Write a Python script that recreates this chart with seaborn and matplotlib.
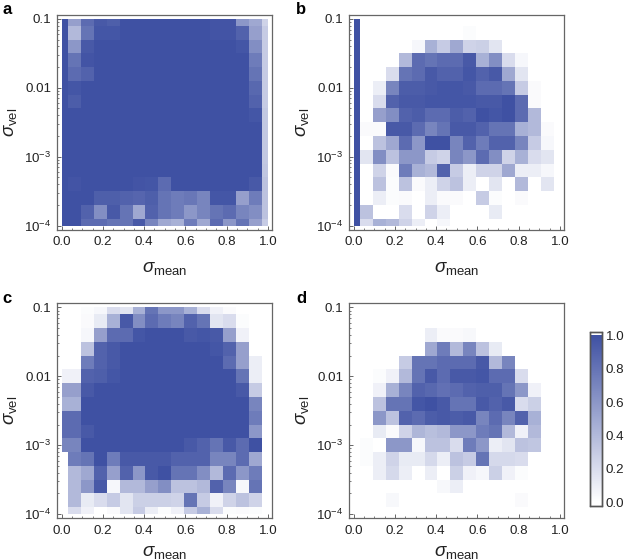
import numpy as np
import matplotlib
matplotlib.use("Agg")
import matplotlib.pyplot as plt
from matplotlib.colors import LinearSegmentedColormap
from matplotlib.patches import Rectangle
import seaborn as sns

# rows run from sigma_vel = 0.1 (top) down to 1e-4, columns sigma_mean 0 -> 1
panel_a = [
    [1,.55,.85,.95,.92,1,1,1,1,1,1,1,.98,.98,.6,.5,.25],
    [1,.4,.8,.97,.97,1,1,1,1,1,1,1,.98,.98,.9,.55,.3],
    [1,.6,.95,1,1,1,1,1,1,1,1,1,1,1,.97,.65,.3],
    [1,.8,.98,1,1,1,1,1,1,1,1,1,1,1,1,.75,.3],
    [1,.85,.9,1,1,1,1,1,1,1,1,1,1,1,1,.8,.3],
    [1,.97,1,1,1,1,1,1,1,1,1,1,1,1,1,.87,.3],
    [1,.93,1,1,1,1,1,1,1,1,1,1,1,1,1,.9,.3],
    [1,1,1,1,1,1,1,1,1,1,1,1,1,1,1,.97,.32],
    [1,1,1,1,1,1,1,1,1,1,1,1,1,1,1,1,.32],
    [1,1,1,1,1,1,1,1,1,1,1,1,1,1,1,1,.32],
    [1,1,1,1,1,1,1,1,1,1,1,1,1,1,1,1,.32],
    [1,1,1,1,1,1,1,1,1,1,1,1,1,1,1,1,.33],
    [1,.98,1,1,1,1,.98,.97,.85,1,1,1,1,1,1,.95,.35],
    [1,1,1,.92,.92,.9,.88,.92,.8,.75,.78,.7,.97,.97,.55,.75,.35],
    [1,1,.9,.65,.95,.8,.5,.9,.8,.75,.6,.7,.8,.85,.7,.65,.35],
    [1,1,.85,.85,.8,.8,.95,.7,.5,.45,.75,.5,.85,.6,.8,.55,.3],
]
panel_b = [
    [1,0,0,0,0,0,0,0,0,0,0,0,0,0,0,0,0],
    [1,0,0,0,0,0,0,0,0,.02,0,0,0,0,0,0,0],
    [1,0,0,0,0,.05,.45,.3,.5,.25,.27,.15,0,0,0,0,0],
    [1,0,0,0,.4,.85,.8,.85,.85,.95,.45,.65,.2,.05,0,0,0],
    [1,0,0,.2,.8,.85,.95,.9,.9,.97,.9,.95,.5,.15,0,0,0],
    [1,0,.1,.7,.93,.93,.95,.97,.97,.95,.85,.85,.8,.3,.03,0,0],
    [1,0,.2,.9,.95,.95,.97,.97,.97,.97,.95,.95,1,.85,.03,0,0],
    [1,0,.55,.65,.9,.93,.85,.85,.93,.9,1,.97,1,.85,.4,0,0],
    [1,.03,.03,.95,.95,.85,.7,.8,.95,.95,.9,.8,.8,.45,.4,.03,0],
    [1,0,.35,.5,.85,.6,1,1,.7,.9,.75,.9,.9,.7,.3,.05,0],
    [1,.15,.65,.35,.6,.6,.3,.25,.7,.6,.85,.65,.25,.45,.2,.15,0],
    [1,0,.25,.03,.75,.45,.4,.9,.3,.1,.25,.25,.5,.1,.1,.05,0],
    [1,0,.35,.02,.35,.03,.1,.25,.35,.1,0,.15,0,.4,0,.15,0],
    [1,0,.1,.02,.03,0,.1,.03,.03,0,.3,.02,0,.03,0,0,0],
    [1,.35,0,0,.2,0,.25,.1,0,0,0,.12,0,0,0,0,0],
    [1,.2,.45,.4,.25,.1,0,.05,0,0,0,0,0,0,0,0,0],
]
panel_c = [
    [0,0,.02,.05,.2,.15,.45,.8,.6,.6,.45,.2,.08,.03,0,0,0],
    [0,0,.03,.12,.45,.95,.65,.85,.75,.7,.9,.8,.15,.2,.02,0,0],
    [0,0,.05,.55,.85,.85,.97,1,1,1,.95,.97,.95,.55,.08,0,0],
    [0,0,.35,.9,.95,1,1,1,1,1,1,1,.97,.9,.55,0,0],
    [0,0,.75,.9,.95,1,1,1,1,1,1,1,1,.85,.55,.1,0],
    [.08,.08,.9,.92,.97,1,1,1,1,1,1,1,1,1,.8,.1,0],
    [.55,.55,.95,1,1,1,1,1,1,1,1,1,1,1,.95,.3,0],
    [.45,.45,1,1,1,1,1,1,1,1,1,1,1,1,1,.7,0],
    [.85,.85,1,1,1,1,1,1,1,1,1,1,1,1,1,.75,0],
    [.85,.85,.95,1,1,1,1,1,1,1,1,1,1,1,1,.6,0],
    [.7,.7,1,1,1,1,1,1,1,1,.95,.9,.8,.95,.85,1,0],
    [0,.75,.8,1,.75,.95,.95,.95,.95,.9,.9,.9,.7,.7,.85,.5,0],
    [0,.4,.5,.9,.55,.9,.6,.95,1,.8,.8,.65,.4,.85,.6,.75,0],
    [0,.4,.6,.95,.05,.4,.4,.55,.65,.35,.35,.4,.9,.7,.05,.8,0],
    [0,.4,.12,.2,.3,.15,.27,.27,.27,.25,.8,.3,.08,.25,.35,.25,0],
    [0,.2,.08,0,.03,.15,.3,.1,.02,.08,.3,.45,.2,.02,.03,.02,0],
]
panel_d = [
    [0,0,0,0,0,0,0,0,0,0,0,0,0,0,0,0,0],
    [0,0,0,0,0,0,0,0,0,0,0,0,0,0,0,0,0],
    [0,0,0,0,0,0,.1,.03,.03,.04,0,0,0,0,0,0,0],
    [0,0,0,0,0,0,.5,.75,.4,.7,.35,.12,0,0,0,0,0],
    [0,0,0,0,.3,.8,.8,.85,.85,.85,.95,.4,.7,0,0,0,0],
    [0,0,.02,.08,.4,.8,.95,.85,.95,.95,.97,.85,.85,.2,0,0,0],
    [0,0,.08,.45,.7,.9,.87,.82,.85,.9,.92,.92,.8,.6,.08,0,0],
    [0,0,.35,.8,.8,.97,1,.95,.8,.8,.95,.9,.95,.2,.27,0,0],
    [0,0,.6,.35,.9,.85,.93,.95,.93,.95,.7,.85,.7,.9,.45,0,0],
    [0,0,.12,.03,.25,.42,.37,.4,.6,.6,.75,.8,.4,.08,.4,0,0],
    [0,.02,0,.6,.6,.05,.35,.35,.2,.75,.6,.1,.15,.35,.33,0,0],
    [0,.02,.1,.25,.12,.12,.22,.1,.35,.3,.8,.22,.22,.2,0,0,0],
    [0,0,.1,.22,.1,0,.1,0,.27,.08,.05,.27,.08,.02,0,0,0],
    [0,0,0,0,0,0,0,.04,.1,0,0,0,0,0,0,0,0],
    [0,0,0,.04,0,0,0,0,0,0,0,0,0,.03,0,0,0],
    [0,0,0,0,0,0,0,0,0,0,0,0,0,0,0,0,0],
]
panel_letters = ["a", "b", "c", "d"]
x_ticks = [0.0, 0.2, 0.4, 0.6, 0.8, 1.0]
x_labels = ["0.0", "0.2", "0.4", "0.6", "0.8", "1.0"]
y_ticks = [0.1, 0.01, 0.001, 0.0001]
y_labels = ["0.1", "0.01", r"$10^{-3}$", r"$10^{-4}$"]
cbar_ticks = [0.0, 0.2, 0.4, 0.6, 0.8, 1.0]

sns.set_style("white")
plt.rcParams["font.family"] = ["Liberation Sans", "DejaVu Sans"]
plt.rcParams["mathtext.fontset"] = "custom"
plt.rcParams["mathtext.rm"] = "Liberation Sans"
plt.rcParams["mathtext.it"] = "Liberation Sans:italic"

W, H = 626, 560
gray = "#666666"
tick_size = 9.6
cmap = LinearSegmentedColormap.from_list("bl", ["#ffffff", "#3f51a3"])

fig = plt.figure(figsize=(W / 100, H / 100), dpi=100)

def px_axes(left, top, right, bottom):
    return fig.add_axes([left / W, 1 - bottom / H, (right - left) / W, (bottom - top) / H])

# x value -> heatmap column coordinate, y value -> heatmap row coordinate
def xpos(v):
    return 16 * np.asarray(v) + 0.5

def ypos(v):
    return 5 * (np.log10(v) + 4) + 0.5

frames = [(57.3, 14.7), (349.3, 14.7), (57.3, 303.3), (349.3, 303.3)]
letter_xy = [(2.5, 13.5), (296, 13.5), (2.5, 303), (296, 303)]
xlabel_y = [-0.14, -0.14, -0.118, -0.118]
data = [panel_a, panel_b, panel_c, panel_d]
cax = px_axes(590, 332, 602, 505.7)

for i, (vals, (fx, fy)) in enumerate(zip(data, frames)):
    ax = px_axes(fx, fy, fx + 215, fy + 215)
    arr = np.array(vals, dtype=float)[::-1]
    last = i == 3
    sns.heatmap(arr, ax=ax, cmap=cmap, vmin=0, vmax=1, square=False,
                cbar=last, cbar_ax=cax if last else None,
                cbar_kws={"ticks": cbar_ticks} if last else None,
                xticklabels=False, yticklabels=False)
    mesh = ax.collections[0]
    mesh.set_clip_path(Rectangle((0.5, 0.5), 16, 15, transform=ax.transData))
    ax.set_xlim(0.5 - 0.33, 16.5 + 0.33)
    ax.set_ylim(0.5 - 0.3, 15.5 + 0.3)

    ax.set_xticks(xpos(x_ticks))
    ax.set_xticklabels(x_labels, fontsize=tick_size, color="#222222", rotation=0)
    ax.set_xticks(xpos(np.arange(0, 1.01, 0.05)), minor=True)
    ax.set_yticks(ypos(np.array(y_ticks)))
    ax.set_yticklabels(y_labels, fontsize=tick_size, color="#222222", rotation=0)
    minor_y = [m * 10.0 ** e for e in (-4, -3, -2) for m in (2, 3, 4, 5, 6, 7, 8, 9)]
    ax.set_yticks(ypos(np.array(minor_y)), minor=True)
    ax.tick_params(which="major", direction="in", length=3, width=0.7, color=gray, pad=4.5,
                   bottom=True, left=True)
    ax.tick_params(which="minor", direction="in", length=1.5, width=0.6, color=gray,
                   bottom=True, left=True)
    for s in ax.spines.values():
        s.set_visible(True)
        s.set_color(gray)
        s.set_linewidth(0.9)

    ax.set_xlabel(r"$\sigma_{\mathrm{mean}}$", fontsize=13.5, color="#222222")
    ax.xaxis.set_label_coords(0.5, xlabel_y[i])
    ax.set_ylabel(r"$\sigma_{\mathrm{vel}}$", fontsize=13.5, color="#222222")
    ax.yaxis.set_label_coords(-0.178, 0.5)
    fig.text(letter_xy[i][0] / W, 1 - letter_xy[i][1] / H, panel_letters[i],
             fontsize=12, fontweight="bold", color="black", va="baseline")

cbar = ax.collections[0].colorbar
cbar.outline.set_visible(False)
cax.set_ylim(-0.022, 1.021)
cax.tick_params(length=0, labelsize=tick_size, labelcolor="#222222", pad=2.5)
for s in cax.spines.values():
    s.set_visible(True)
    s.set_color("#555555")
    s.set_linewidth(1.0)

fig.savefig("out.png", dpi=100)
